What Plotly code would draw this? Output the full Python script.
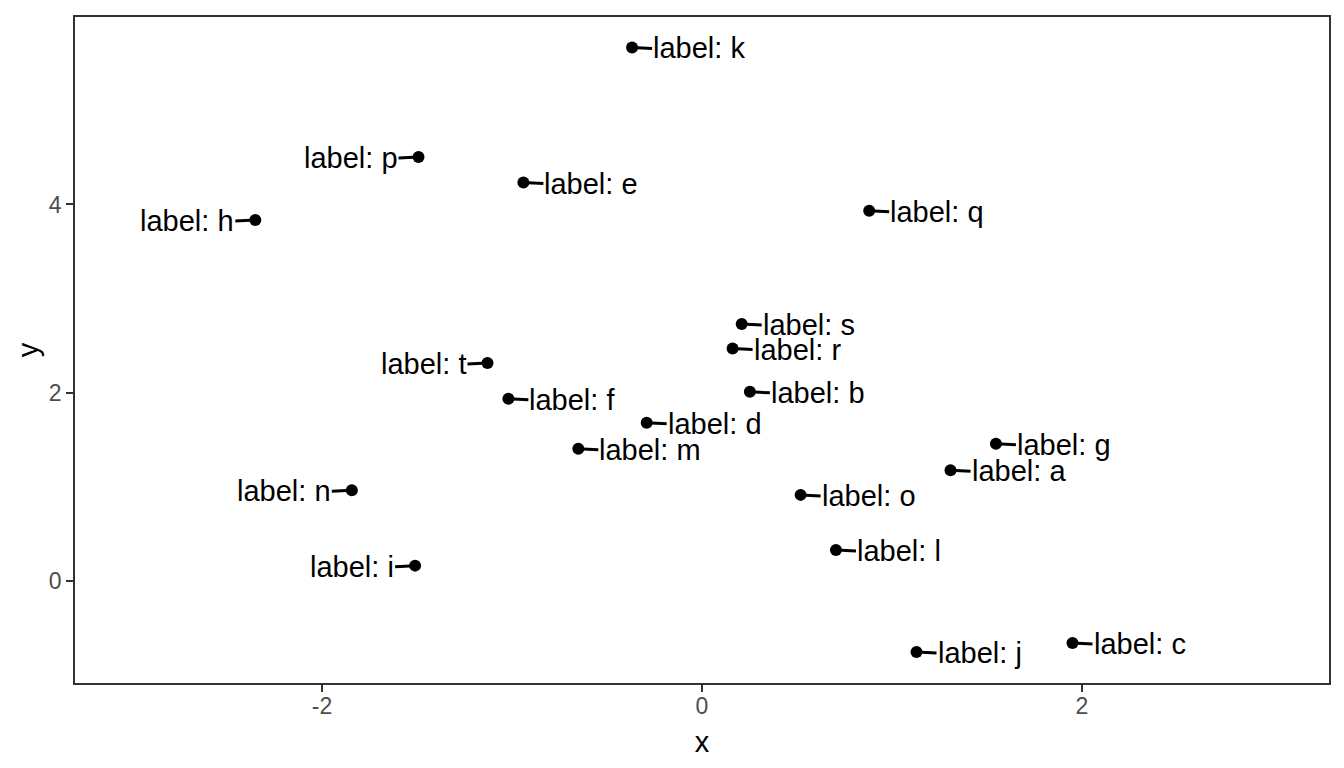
import plotly.graph_objects as go

# points
names = ["a", "b", "c", "d", "e", "f", "g", "h", "i", "j",
         "k", "l", "m", "n", "o", "p", "q", "r", "s", "t"]
x = [1.308, 0.252, 1.950, -0.291, -0.940, -1.019, 1.547, -2.351, -1.510, 1.129,
     -0.368, 0.705, -0.651, -1.843, 0.519, -1.492, 0.880, 0.161, 0.209, -1.129]
y = [1.179, 2.011, -0.656, 1.683, 4.233, 1.937, 1.460, 3.835, 0.166, -0.751,
     5.667, 0.332, 1.407, 0.967, 0.917, 4.504, 3.933, 2.470, 2.730, 2.317]

x_ticks = [-2, 0, 2]
x_tick_text = ["-2", "0", "2"]
y_ticks = [0, 2, 4]
y_tick_text = ["0", "2", "4"]

# which side the repelled label sits on (1 = right, -1 = left)
label_side = [1, 1, 1, 1, 1, 1, 1, -1, -1, 1,
              1, 1, 1, -1, 1, -1, 1, 1, 1, -1]

FONT = "Liberation Sans, Arial, sans-serif"
GAP = 20

fig = go.Figure()
fig.add_trace(go.Scatter(
    x=x, y=y, mode="markers",
    marker=dict(color="black", size=12),
    hoverinfo="skip", showlegend=False,
))

for nm, xi, yi, s in zip(names, x, y, label_side):
    fig.add_annotation(
        x=xi, y=yi, text="label: " + nm,
        showarrow=True, arrowhead=0, arrowwidth=3, arrowcolor="black",
        ax=s * GAP, ay=1, standoff=0, startstandoff=0,
        xanchor="left" if s > 0 else "right", yanchor="middle",
        borderpad=0, font=dict(family=FONT, size=29, color="black"),
    )

axis_common = dict(
    showgrid=False, zeroline=False,
    showline=True, linecolor="#333333", linewidth=1.5, mirror=True,
    ticks="outside", ticklen=7, tickwidth=1.5, tickcolor="#333333",
    tickfont=dict(family=FONT, size=23, color="#4D4D4D"),
)

fig.update_xaxes(range=[-3.3, 3.3], tickvals=x_ticks, ticktext=x_tick_text,
                 ticklabelstandoff=-5,
                 title=dict(text="x", font=dict(family=FONT, size=29, color="black"), standoff=13),
                 **axis_common)
fig.update_yaxes(range=[-1.08, 5.99], tickvals=y_ticks, ticktext=y_tick_text,
                 title=dict(text="y", font=dict(family=FONT, size=29, color="black"), standoff=2),
                 **axis_common)

# page adds ~8px body margin, so the figure is a bit smaller than the window
fig.update_layout(
    width=1336, height=760,
    margin=dict(l=67, r=15, t=7, b=85),
    plot_bgcolor="white", paper_bgcolor="white",
)

fig.write_html("out.html")
